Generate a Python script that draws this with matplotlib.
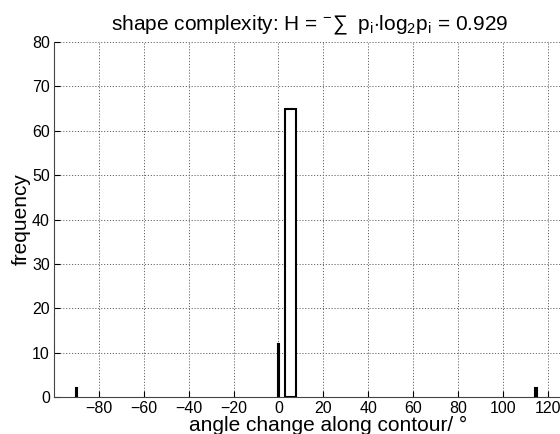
import matplotlib
matplotlib.use("Agg")
import matplotlib.pyplot as plt

centers = [-90.0, 0.0, 5.4, 114.8]
heights = [2, 12, 65, 2]
widths = [0.2, 0.2, 4.9, 1.2]
xticks = [-80, -60, -40, -20, 0, 20, 40, 60, 80, 100, 120]
yticks = [0, 10, 20, 30, 40, 50, 60, 70, 80]

plt.rcParams['font.family'] = ['Liberation Sans', 'DejaVu Sans']
plt.rcParams['mathtext.fontset'] = 'custom'
plt.rcParams['mathtext.rm'] = 'Liberation Sans'
plt.rcParams['mathtext.it'] = 'Liberation Sans'

fig = plt.figure(figsize=(5.6, 4.34), dpi=100)
axw = 1 - 54/560 + 0.01
ax = fig.add_axes([54/560, 1-397/434, axw, (397-42)/434])
ax.bar(centers, heights, width=widths, facecolor='white', edgecolor='black', linewidth=1.5, zorder=3)
ax.set_xlim(-100, 128)
ax.set_ylim(0, 80)
ax.set_xticks(xticks)
ax.set_yticks(yticks)
ax.tick_params(direction='in', length=4, labelsize=11.5, colors='black', pad=3)
ax.grid(True, linestyle=(0, (1.2, 1.8)), color='#666666', linewidth=0.7)
ax.spines['right'].set_visible(False)
ax.spines['top'].set_visible(False)
for s in ['left', 'bottom']:
    ax.spines[s].set_color('#444444')
ax.set_xlabel('angle change along contour/ °', fontsize=15, va='center')
ax.xaxis.set_label_coords((328 - 54) / (axw * 560), -(425 - 397) / 355)
ax.set_ylabel('frequency', fontsize=15, va='center')
ax.yaxis.set_label_coords(-(54 - 21) / (axw * 560), 0.5)
ax.set_title(r'shape complexity: H = $^{-}\sum\;$ p$_\mathrm{i}$$\cdot$log$_2$p$_\mathrm{i}$ = 0.929', fontsize=15, pad=8)
fig.savefig('out.png', dpi=100)
